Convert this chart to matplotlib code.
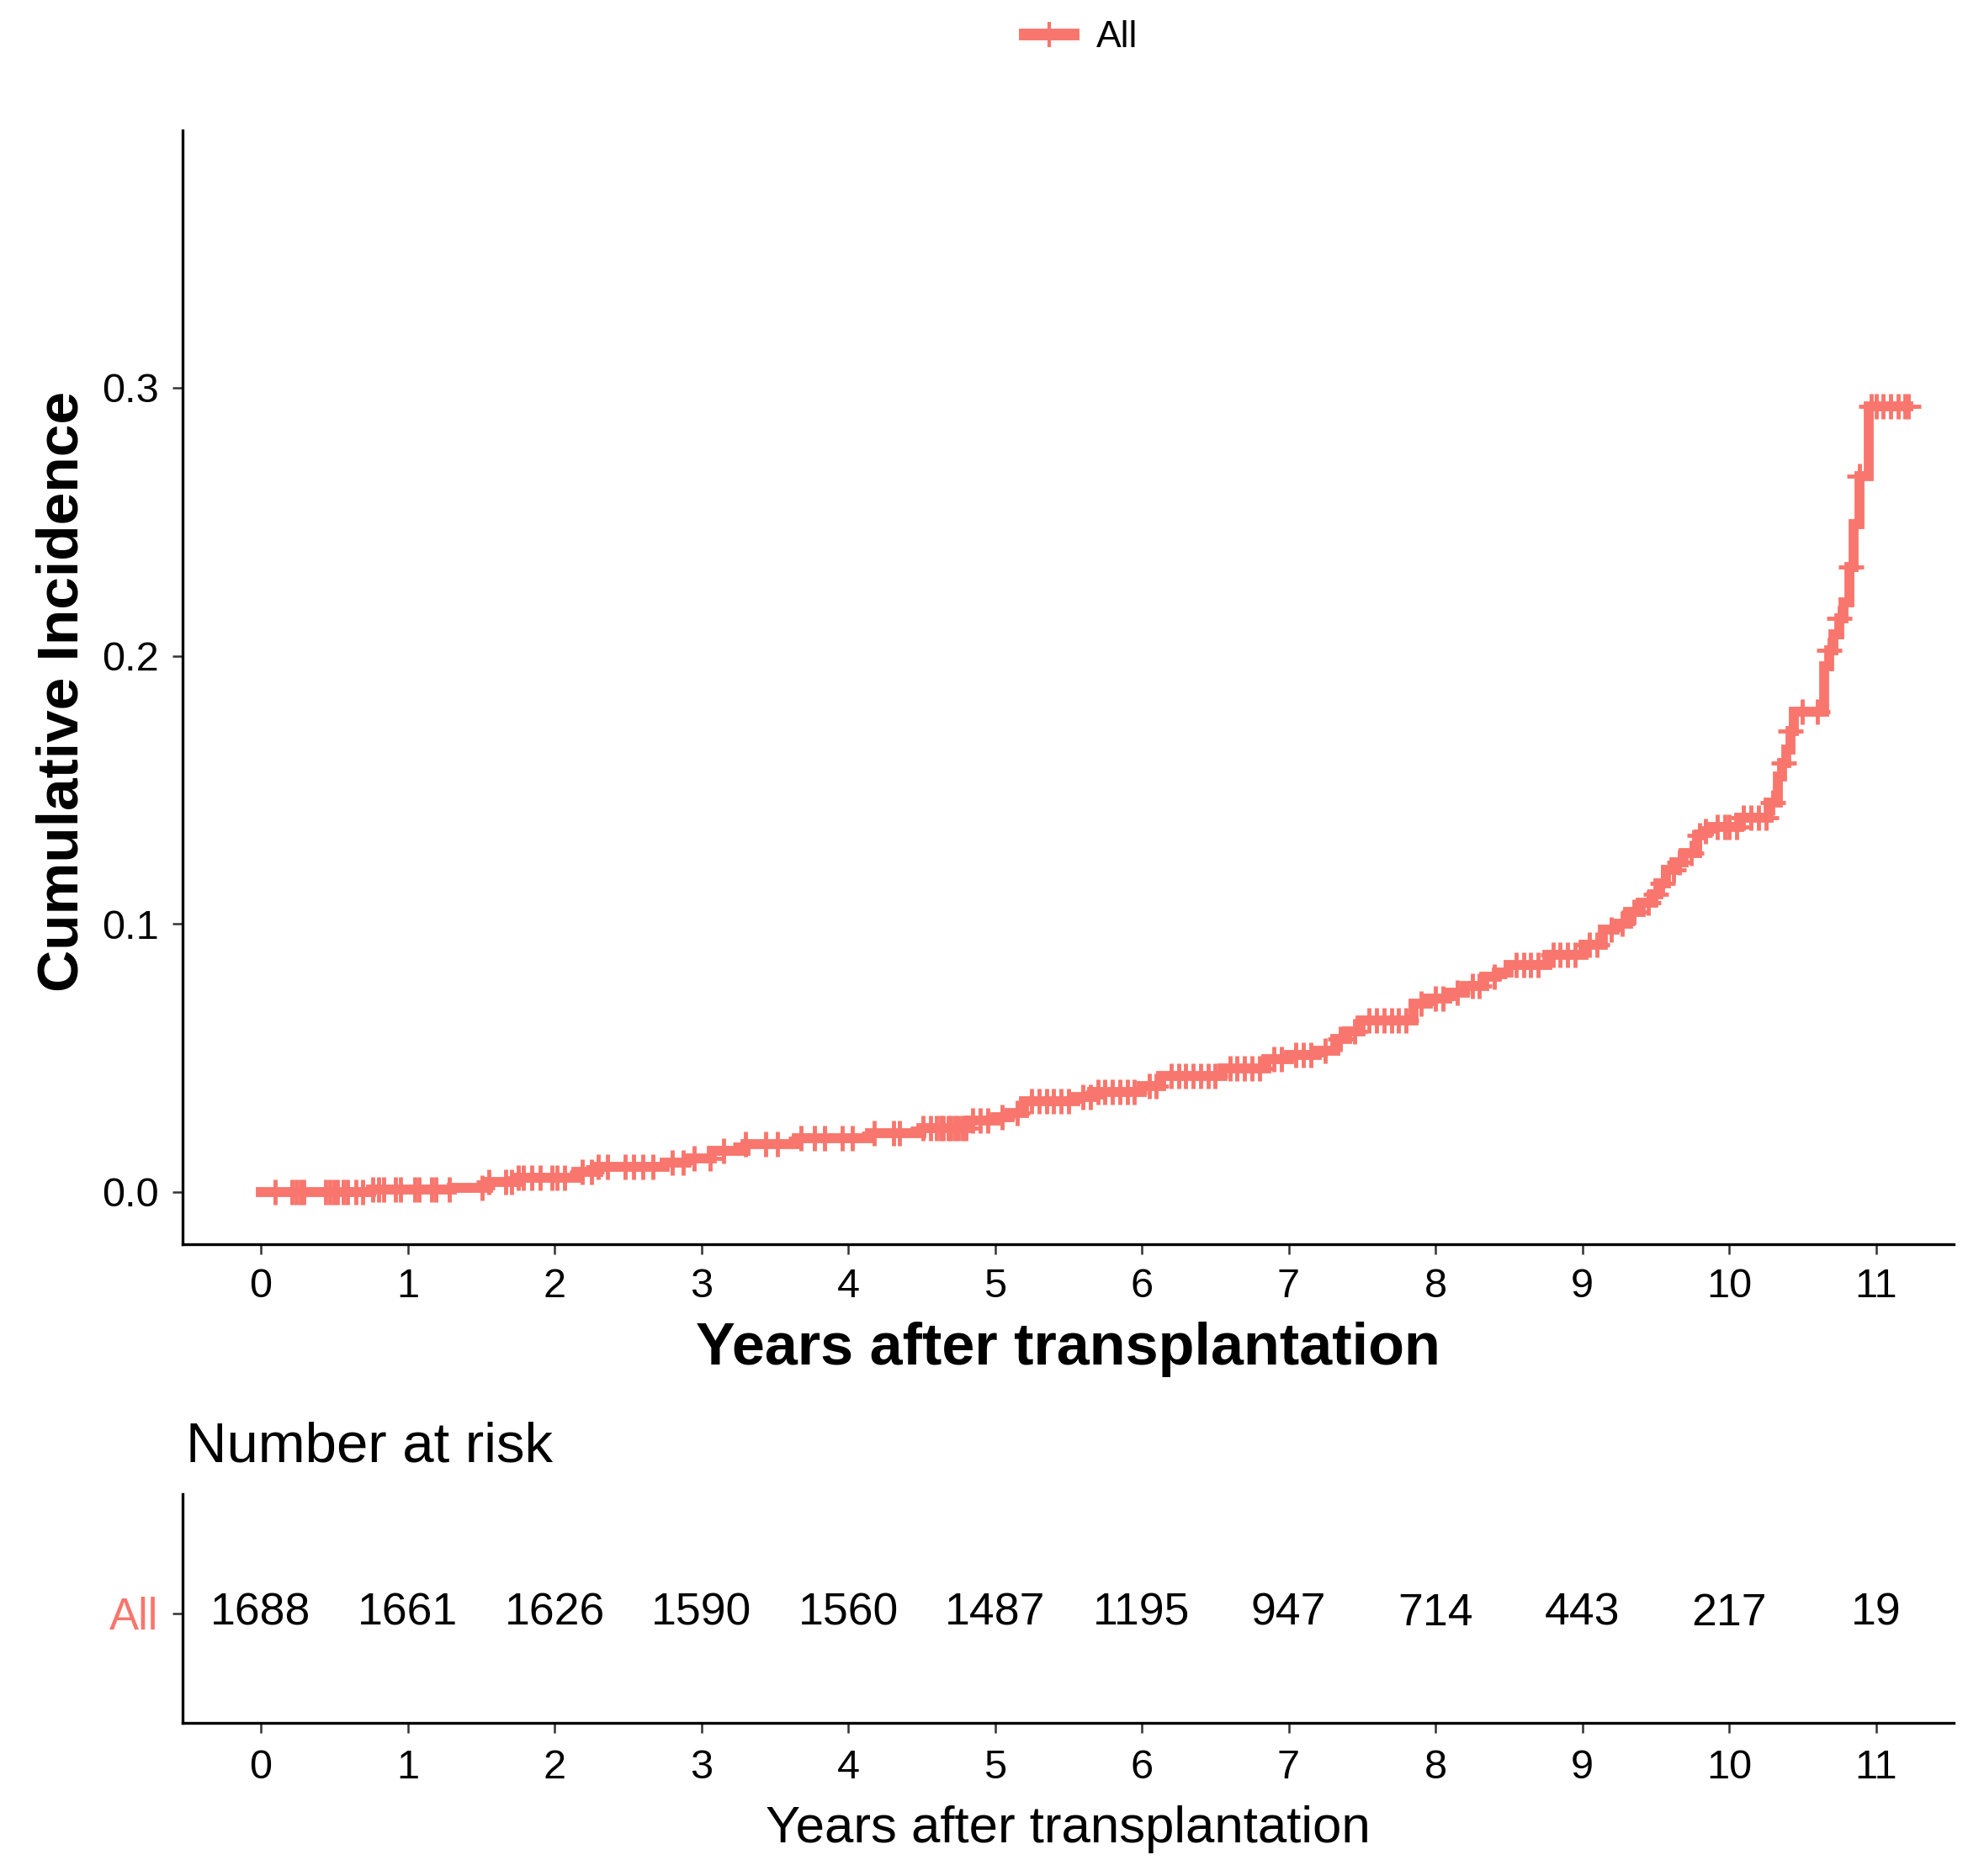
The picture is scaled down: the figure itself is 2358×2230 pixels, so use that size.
import numpy as np
import matplotlib
matplotlib.use("Agg")
import matplotlib.pyplot as plt
from matplotlib.lines import Line2D

plt.rcParams['font.family'] = ['Liberation Sans', 'DejaVu Sans']

# Cumulative incidence step curve
event_times = [0.0, 0.75, 1.3, 1.55, 1.75, 2.15, 2.3, 2.75, 2.9, 3.07, 3.3, 3.65,
               4.15, 4.5, 4.82, 5.0, 5.1, 5.2, 5.55, 5.66, 6.0, 6.13, 6.55, 6.85,
               7.0, 7.19, 7.32, 7.4, 7.49, 7.85, 7.95, 8.08, 8.2, 8.33, 8.42, 8.5,
               8.76, 9.01, 9.14, 9.22, 9.31, 9.4, 9.48, 9.52, 9.57, 9.63, 9.69,
               9.78, 9.82, 9.86, 10.07, 10.27, 10.33, 10.36, 10.39, 10.42, 10.44,
               10.65, 10.68, 10.71, 10.75, 10.78, 10.82, 10.85, 10.89, 10.95]
cum_inc = [0.0, 0.0008, 0.0016, 0.0037, 0.0053, 0.0075, 0.0094, 0.011, 0.0126,
           0.0153, 0.0179, 0.020, 0.022, 0.0238, 0.0267, 0.028, 0.0295, 0.034,
           0.0355, 0.0373, 0.0395, 0.0434, 0.046, 0.0494, 0.051, 0.0527, 0.0571,
           0.060, 0.0641, 0.0703, 0.072, 0.0743, 0.077, 0.0803, 0.082, 0.0847,
           0.0885, 0.0923, 0.0978, 0.100, 0.1045, 0.108, 0.111, 0.115, 0.120,
           0.123, 0.1264, 0.133, 0.1345, 0.1363, 0.1396, 0.1452, 0.155, 0.160,
           0.165, 0.172, 0.179, 0.196, 0.202, 0.208, 0.214, 0.220, 0.233, 0.249,
           0.267, 0.293]
last_time = 11.22

# censoring times (tick marks on the curve)
censor_times = [0.095, 0.21, 0.24, 0.27, 0.295, 0.44, 0.47, 0.5, 0.524, 0.562, 0.59,
                0.648, 0.695, 0.76, 0.8, 0.838, 0.914, 0.952, 1.048, 1.076, 1.162,
                1.19, 1.286, 1.505, 1.552, 1.667, 1.705, 1.752, 1.79, 1.848, 1.905,
                1.98, 2.02, 2.067, 2.19, 2.25, 2.30, 2.36, 2.48, 2.54, 2.6, 2.67,
                2.8, 2.875, 2.95, 3.06, 3.15, 3.3, 3.44, 3.52, 3.68, 3.77, 3.84,
                3.96, 4.03, 4.18, 4.31, 4.35, 4.51, 4.56, 4.6, 4.63, 4.65, 4.68,
                4.7, 4.73, 4.75, 4.78, 4.8, 4.85, 4.9, 4.95, 5.05, 5.15, 5.25, 5.3,
                5.35, 5.4, 5.45, 5.5, 5.6, 5.65, 5.7, 5.75, 5.8, 5.85, 5.9, 5.95,
                6.05, 6.1, 6.2, 6.25, 6.3, 6.35, 6.4, 6.45, 6.5, 6.6, 6.65, 6.7,
                6.75, 6.8, 6.9, 6.95, 7.05, 7.1, 7.15, 7.25, 7.35, 7.45, 7.55, 7.6,
                7.65, 7.7, 7.75, 7.8, 7.9, 8.0, 8.05, 8.15, 8.25, 8.3, 8.4, 8.55,
                8.6, 8.65, 8.7, 8.8, 8.85, 8.9, 8.95, 9.05, 9.1, 9.2, 9.27, 9.35,
                9.45, 9.5, 9.55, 9.62, 9.66, 9.74, 9.8, 9.84, 9.92, 9.97, 10.0,
                10.05, 10.1, 10.15, 10.2, 10.25, 10.3, 10.37, 10.42, 10.5, 10.6,
                10.68, 10.75, 10.83, 10.89, 10.97, 11.0, 11.05, 11.1, 11.15, 11.2,
                11.22]

# number at risk table
risk_times = [0, 1, 2, 3, 4, 5, 6, 7, 8, 9, 10, 11]
n_risk = [1688, 1661, 1626, 1590, 1560, 1487, 1195, 947, 714, 443, 217, 19]

color = '#F8766D'
W, H = 2358, 2230
fig = plt.figure(figsize=(W / 100, H / 100), dpi=100)


def px(x, y):
    return x / W, 1 - y / H


# main plot
ax = fig.add_axes([217 / W, 1 - 1479 / H, 2105 / W, 1324 / H])
t = np.array(event_times + [last_time])
v = np.array(cum_inc + [cum_inc[-1]])
ax.step(t, v, where='post', color=color, lw=8.5, solid_joinstyle='miter')
ct = np.array(censor_times)
idx = np.searchsorted(event_times, ct, side='right') - 1
ax.plot(ct, np.array(cum_inc)[idx], ls='none', marker='+', color=color,
        ms=22, mew=3.5)

ax.set_xlim(-0.533, 11.53)
ax.set_ylim(-0.0195, 0.396)
ax.set_xticks(risk_times)
ax.set_yticks([0.0, 0.1, 0.2, 0.3])
ax.set_yticklabels(['0.0', '0.1', '0.2', '0.3'])
for s in ['top', 'right']:
    ax.spines[s].set_visible(False)
for s in ['left', 'bottom']:
    ax.spines[s].set_linewidth(2.4)
ax.tick_params(labelsize=35, length=8.5, width=1.8, color='#333333', pad=12)

fig.text(*px(1269.5, 1622), 'Years after transplantation', fontsize=50.5,
         fontweight='bold', ha='center', va='baseline')
fig.text(*px(93, 822), 'Cumulative Incidence', fontsize=50, fontweight='bold',
         ha='center', va='baseline', rotation=90, rotation_mode='anchor')

# legend on top
handle = Line2D([], [], color=color, lw=10, marker='+', ms=22, mew=3)
fig.legend(handles=[handle], labels=['All'], loc='center',
           bbox_to_anchor=px(1285, 45), frameon=False, fontsize=32,
           handlelength=1.3, handletextpad=0.6)

# risk table
fig.text(*px(221, 1738), 'Number at risk', fontsize=48.3, ha='left', va='baseline')
rax = fig.add_axes([217 / W, 1 - 2048 / H, 2105 / W, 272 / H])
rax.set_xlim(-0.533, 11.53)
rax.set_ylim(0, 1)
for x, n in zip(risk_times, n_risk):
    rax.text(x, 0.478, str(n), fontsize=38.5, ha='center', va='center')
rax.set_xticks(risk_times)
rax.set_yticks([0.478])
rax.set_yticklabels(['All'])
rax.get_yticklabels()[0].set_color(color)
for s in ['top', 'right']:
    rax.spines[s].set_visible(False)
for s in ['left', 'bottom']:
    rax.spines[s].set_linewidth(2.4)
rax.tick_params(axis='x', labelsize=35, length=8.5, width=1.8, color='#333333', pad=14)
rax.tick_params(axis='y', labelsize=38, length=8.5, width=1.8, color='#333333', pad=12)
fig.text(*px(1269.5, 2190), 'Years after transplantation', fontsize=44.5,
         ha='center', va='baseline')

fig.savefig('out.png', dpi=100)
